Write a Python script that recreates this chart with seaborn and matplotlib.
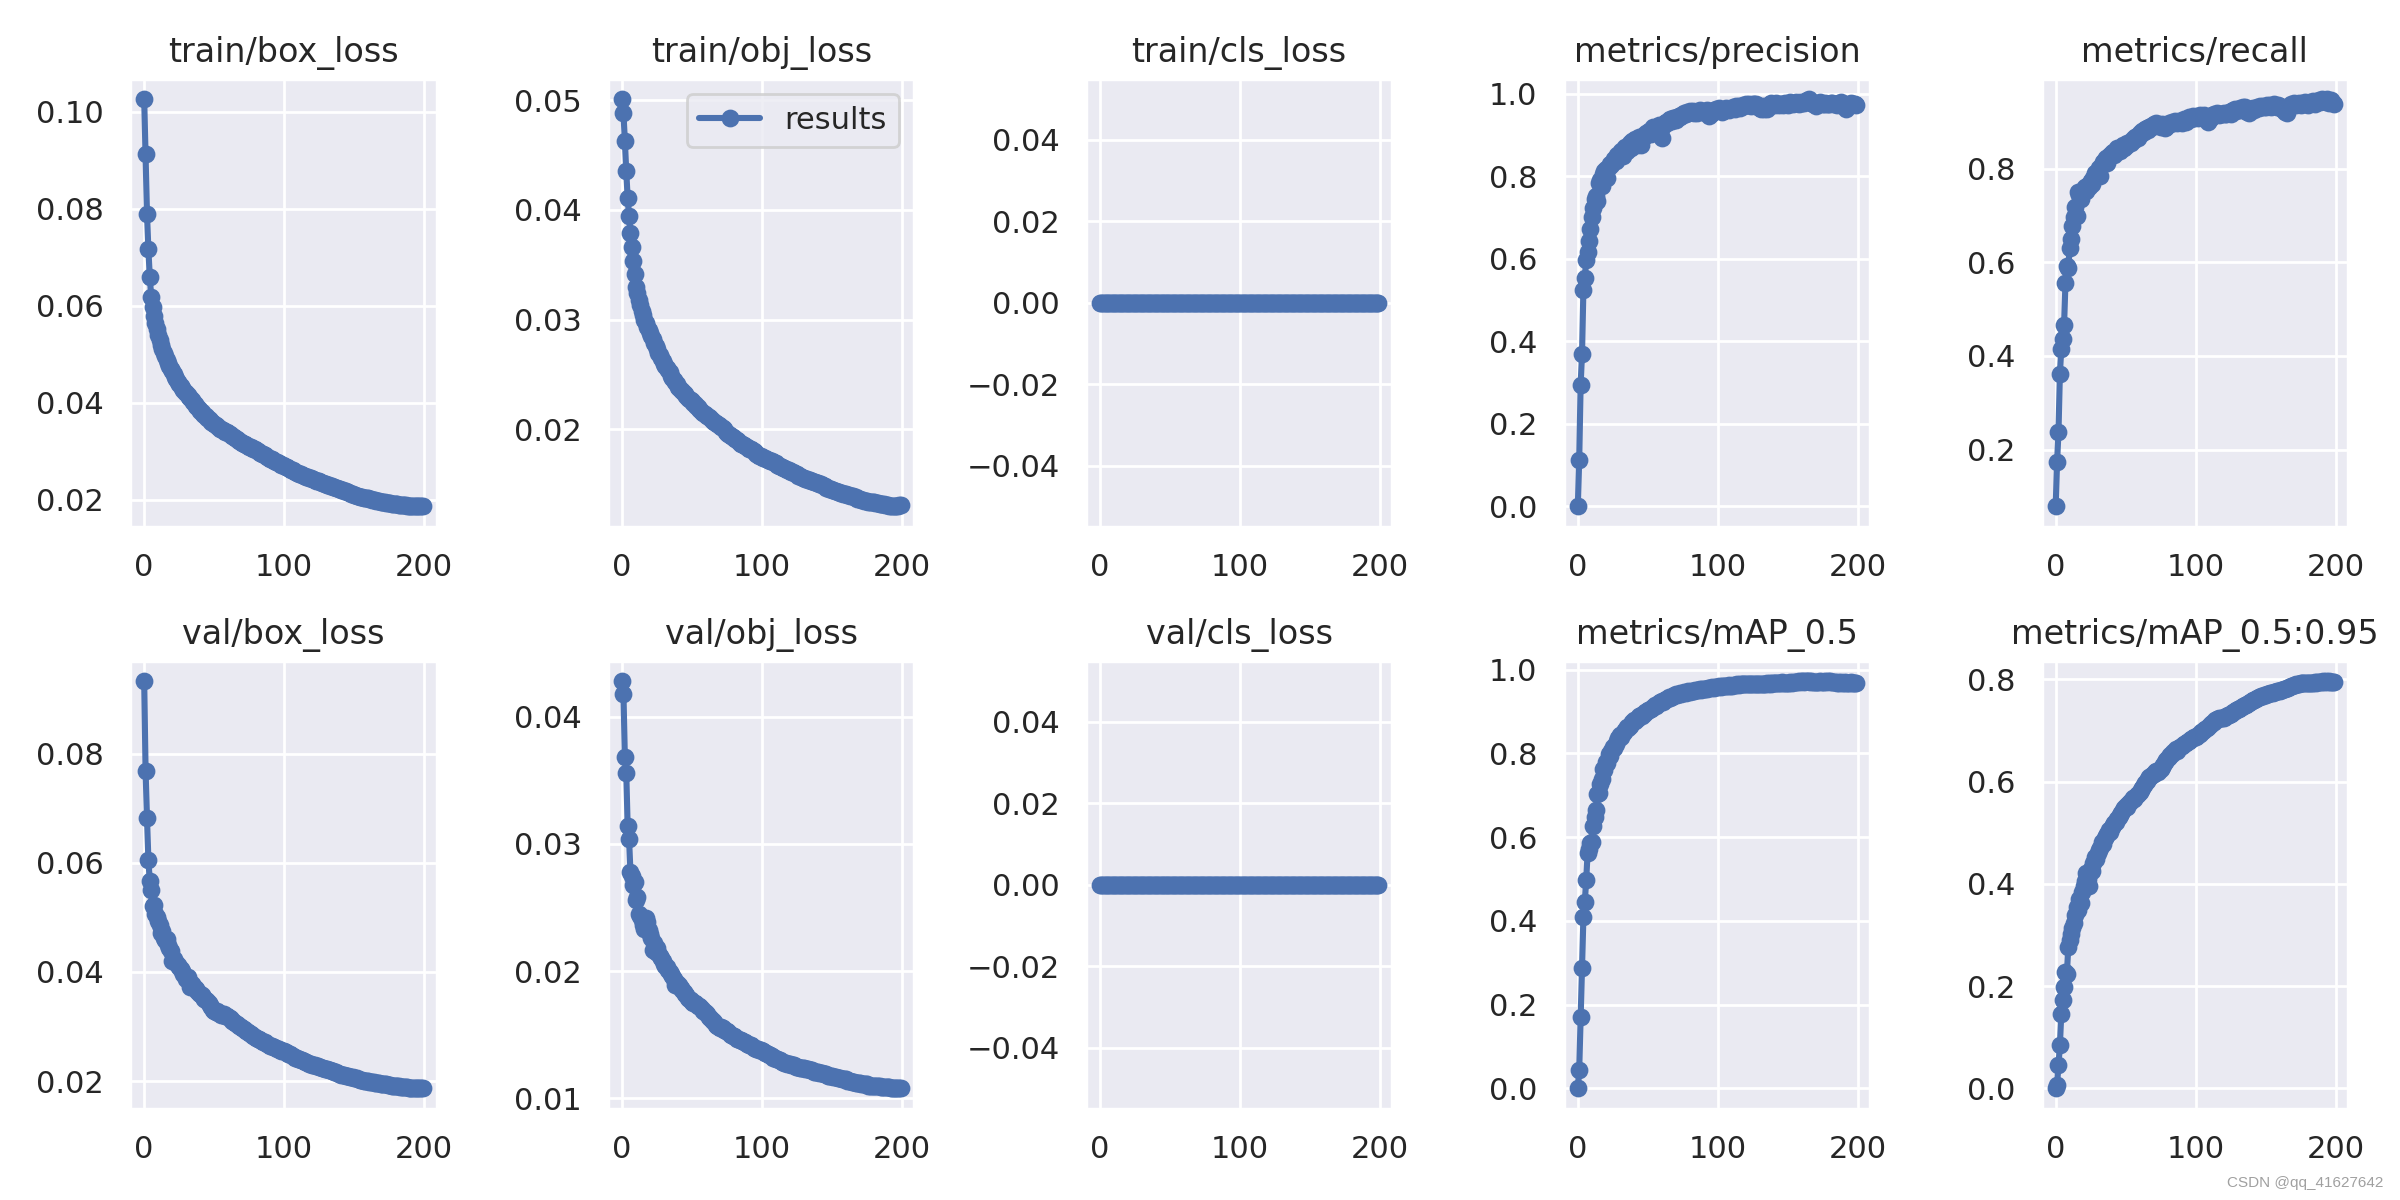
import numpy as np
import matplotlib
matplotlib.use("Agg")
import matplotlib.pyplot as plt
import seaborn as sns

# YOLOv5 training results, 200 epochs
epochs = np.arange(200)

titles = ['train/box_loss', 'train/obj_loss', 'train/cls_loss', 'metrics/precision', 'metrics/recall',
          'val/box_loss', 'val/obj_loss', 'val/cls_loss', 'metrics/mAP_0.5', 'metrics/mAP_0.5:0.95']

train_box_loss = [
    0.1026, 0.0912, 0.0790, 0.0716, 0.0660, 0.0619, 0.0597, 0.0580, 0.0565, 0.0552,
    0.0540, 0.0530, 0.0520, 0.0512, 0.0503, 0.0497, 0.0489, 0.0482, 0.0476, 0.0470,
    0.0465, 0.0459, 0.0453, 0.0449, 0.0444, 0.0439, 0.0435, 0.0431, 0.0427, 0.0423,
    0.0420, 0.0416, 0.0412, 0.0409, 0.0405, 0.0402, 0.0398, 0.0394, 0.0391, 0.0388,
    0.0384, 0.0381, 0.0378, 0.0375, 0.0372, 0.0369, 0.0366, 0.0364, 0.0361, 0.0359,
    0.0357, 0.0355, 0.0352, 0.0350, 0.0347, 0.0346, 0.0344, 0.0342, 0.0340, 0.0339,
    0.0337, 0.0335, 0.0333, 0.0331, 0.0329, 0.0327, 0.0325, 0.0323, 0.0321, 0.0320,
    0.0318, 0.0316, 0.0315, 0.0313, 0.0312, 0.0310, 0.0309, 0.0307, 0.0305, 0.0304,
    0.0302, 0.0300, 0.0299, 0.0297, 0.0295, 0.0294, 0.0292, 0.0290, 0.0288, 0.0287,
    0.0285, 0.0284, 0.0282, 0.0281, 0.0279, 0.0278, 0.0276, 0.0274, 0.0273, 0.0271,
    0.0270, 0.0268, 0.0267, 0.0265, 0.0264, 0.0262, 0.0261, 0.0259, 0.0258, 0.0256,
    0.0255, 0.0254, 0.0253, 0.0252, 0.0250, 0.0249, 0.0248, 0.0247, 0.0246, 0.0245,
    0.0244, 0.0243, 0.0241, 0.0240, 0.0239, 0.0238, 0.0236, 0.0235, 0.0234, 0.0233,
    0.0232, 0.0231, 0.0230, 0.0229, 0.0228, 0.0227, 0.0226, 0.0225, 0.0224, 0.0223,
    0.0222, 0.0221, 0.0220, 0.0219, 0.0218, 0.0217, 0.0216, 0.0215, 0.0213, 0.0212,
    0.0211, 0.0210, 0.0209, 0.0208, 0.0207, 0.0207, 0.0206, 0.0205, 0.0204, 0.0203,
    0.0203, 0.0202, 0.0201, 0.0200, 0.0200, 0.0199, 0.0198, 0.0198, 0.0197, 0.0196,
    0.0196, 0.0195, 0.0195, 0.0194, 0.0194, 0.0193, 0.0193, 0.0192, 0.0192, 0.0191,
    0.0191, 0.0191, 0.0190, 0.0190, 0.0190, 0.0189, 0.0189, 0.0189, 0.0188, 0.0188,
    0.0188, 0.0188, 0.0188, 0.0187, 0.0187, 0.0187, 0.0187, 0.0187, 0.0187, 0.0187,
]

train_obj_loss = [
    0.0501, 0.0488, 0.0463, 0.0435, 0.0411, 0.0394, 0.0379, 0.0366, 0.0353, 0.0342,
    0.0330, 0.0324, 0.0318, 0.0313, 0.0308, 0.0304, 0.0300, 0.0297, 0.0293, 0.0291,
    0.0288, 0.0285, 0.0282, 0.0279, 0.0276, 0.0273, 0.0270, 0.0268, 0.0265, 0.0262,
    0.0260, 0.0258, 0.0256, 0.0254, 0.0252, 0.0249, 0.0247, 0.0245, 0.0243, 0.0241,
    0.0239, 0.0238, 0.0236, 0.0235, 0.0233, 0.0232, 0.0230, 0.0229, 0.0228, 0.0227,
    0.0226, 0.0224, 0.0223, 0.0221, 0.0220, 0.0219, 0.0218, 0.0216, 0.0215, 0.0214,
    0.0213, 0.0212, 0.0211, 0.0210, 0.0209, 0.0208, 0.0207, 0.0206, 0.0205, 0.0204,
    0.0203, 0.0202, 0.0201, 0.0200, 0.0198, 0.0197, 0.0196, 0.0195, 0.0194, 0.0193,
    0.0192, 0.0191, 0.0190, 0.0189, 0.0188, 0.0187, 0.0187, 0.0186, 0.0185, 0.0184,
    0.0183, 0.0182, 0.0182, 0.0181, 0.0180, 0.0179, 0.0178, 0.0177, 0.0176, 0.0176,
    0.0175, 0.0174, 0.0174, 0.0173, 0.0172, 0.0172, 0.0171, 0.0171, 0.0170, 0.0169,
    0.0169, 0.0168, 0.0167, 0.0167, 0.0166, 0.0165, 0.0165, 0.0164, 0.0163, 0.0163,
    0.0162, 0.0161, 0.0161, 0.0160, 0.0159, 0.0159, 0.0158, 0.0158, 0.0157, 0.0156,
    0.0156, 0.0155, 0.0155, 0.0154, 0.0154, 0.0153, 0.0153, 0.0152, 0.0152, 0.0151,
    0.0151, 0.0150, 0.0150, 0.0149, 0.0148, 0.0148, 0.0147, 0.0147, 0.0146, 0.0146,
    0.0145, 0.0145, 0.0144, 0.0144, 0.0143, 0.0143, 0.0142, 0.0142, 0.0141, 0.0141,
    0.0141, 0.0140, 0.0140, 0.0139, 0.0139, 0.0139, 0.0138, 0.0138, 0.0137, 0.0137,
    0.0137, 0.0136, 0.0136, 0.0135, 0.0135, 0.0135, 0.0134, 0.0134, 0.0134, 0.0134,
    0.0134, 0.0133, 0.0133, 0.0133, 0.0132, 0.0132, 0.0132, 0.0132, 0.0131, 0.0131,
    0.0131, 0.0130, 0.0130, 0.0130, 0.0130, 0.0130, 0.0130, 0.0130, 0.0131, 0.0131,
]

train_cls_loss = [0.0] * 200

precision = [
    0.000, 0.112, 0.293, 0.369, 0.525, 0.553, 0.598, 0.616, 0.644, 0.672,
    0.702, 0.724, 0.745, 0.753, 0.741, 0.783, 0.790, 0.775, 0.806, 0.812,
    0.817, 0.795, 0.822, 0.830, 0.826, 0.835, 0.842, 0.838, 0.851, 0.846,
    0.857, 0.862, 0.848, 0.866, 0.870, 0.861, 0.874, 0.880, 0.868, 0.885,
    0.883, 0.890, 0.876, 0.888, 0.895, 0.875, 0.892, 0.900, 0.898, 0.905,
    0.905, 0.910, 0.902, 0.912, 0.918, 0.914, 0.920, 0.917, 0.925, 0.912,
    0.892, 0.922, 0.928, 0.932, 0.930, 0.936, 0.938, 0.934, 0.940, 0.942,
    0.937, 0.944, 0.946, 0.943, 0.948, 0.948, 0.952, 0.950, 0.955, 0.953,
    0.957, 0.955, 0.958, 0.953, 0.956, 0.952, 0.957, 0.960, 0.958, 0.955,
    0.955, 0.958, 0.960, 0.957, 0.945, 0.950, 0.958, 0.961, 0.959, 0.962,
    0.961, 0.965, 0.960, 0.955, 0.958, 0.963, 0.966, 0.962, 0.960, 0.964,
    0.965, 0.968, 0.963, 0.970, 0.967, 0.969, 0.966, 0.971, 0.972, 0.970,
    0.974, 0.972, 0.975, 0.973, 0.971, 0.975, 0.976, 0.974, 0.973, 0.968,
    0.965, 0.962, 0.969, 0.964, 0.966, 0.962, 0.970, 0.975, 0.978, 0.974,
    0.976, 0.973, 0.977, 0.975, 0.972, 0.976, 0.974, 0.973, 0.977, 0.975,
    0.972, 0.976, 0.979, 0.978, 0.975, 0.977, 0.980, 0.978, 0.976, 0.979,
    0.978, 0.981, 0.977, 0.983, 0.985, 0.987, 0.980, 0.978, 0.975, 0.974,
    0.971, 0.975, 0.977, 0.979, 0.978, 0.976, 0.975, 0.978, 0.976, 0.974,
    0.975, 0.977, 0.978, 0.976, 0.974, 0.973, 0.975, 0.977, 0.979, 0.976,
    0.974, 0.970, 0.962, 0.969, 0.975, 0.977, 0.976, 0.974, 0.975, 0.972,
]

recall = [
    0.079, 0.174, 0.237, 0.362, 0.415, 0.437, 0.467, 0.557, 0.593, 0.588,
    0.631, 0.650, 0.677, 0.696, 0.719, 0.700, 0.750, 0.744, 0.735, 0.752,
    0.757, 0.760, 0.752, 0.766, 0.762, 0.773, 0.768, 0.780, 0.790, 0.786,
    0.795, 0.802, 0.785, 0.808, 0.815, 0.818, 0.824, 0.812, 0.828, 0.830,
    0.834, 0.836, 0.829, 0.840, 0.845, 0.841, 0.838, 0.846, 0.850, 0.844,
    0.849, 0.854, 0.852, 0.858, 0.856, 0.864, 0.862, 0.868, 0.870, 0.866,
    0.876, 0.874, 0.880, 0.878, 0.884, 0.887, 0.883, 0.889, 0.892, 0.890,
    0.895, 0.893, 0.897, 0.895, 0.891, 0.889, 0.896, 0.893, 0.887, 0.890,
    0.893, 0.897, 0.895, 0.899, 0.897, 0.902, 0.900, 0.897, 0.903, 0.901,
    0.898, 0.903, 0.906, 0.900, 0.904, 0.910, 0.908, 0.906, 0.912, 0.909,
    0.911, 0.913, 0.909, 0.915, 0.912, 0.910, 0.914, 0.908, 0.904, 0.900,
    0.906, 0.910, 0.914, 0.917, 0.915, 0.919, 0.917, 0.915, 0.918, 0.916,
    0.920, 0.918, 0.916, 0.919, 0.921, 0.917, 0.923, 0.925, 0.927, 0.924,
    0.925, 0.928, 0.930, 0.926, 0.931, 0.933, 0.928, 0.922, 0.920, 0.925,
    0.928, 0.930, 0.926, 0.929, 0.932, 0.930, 0.934, 0.931, 0.935, 0.932,
    0.933, 0.936, 0.934, 0.937, 0.931, 0.935, 0.938, 0.936, 0.933, 0.937,
    0.935, 0.932, 0.928, 0.925, 0.922, 0.919, 0.930, 0.934, 0.938, 0.936,
    0.940, 0.938, 0.936, 0.939, 0.941, 0.937, 0.940, 0.938, 0.942, 0.939,
    0.937, 0.940, 0.943, 0.941, 0.944, 0.939, 0.942, 0.945, 0.946, 0.943,
    0.948, 0.944, 0.946, 0.942, 0.949, 0.941, 0.944, 0.946, 0.940, 0.939,
]

val_box_loss = [
    0.0933, 0.0768, 0.0682, 0.0606, 0.0566, 0.0550, 0.0520, 0.0522, 0.0506, 0.0500,
    0.0493, 0.0486, 0.0472, 0.0475, 0.0462, 0.0458, 0.0461, 0.0450, 0.0444, 0.0438,
    0.0420, 0.0424, 0.0419, 0.0416, 0.0413, 0.0409, 0.0405, 0.0401, 0.0397, 0.0392,
    0.0388, 0.0390, 0.0383, 0.0373, 0.0378, 0.0374, 0.0370, 0.0368, 0.0365, 0.0362,
    0.0360, 0.0357, 0.0355, 0.0351, 0.0349, 0.0346, 0.0343, 0.0340, 0.0335, 0.0331,
    0.0328, 0.0327, 0.0329, 0.0325, 0.0324, 0.0322, 0.0321, 0.0323, 0.0320, 0.0319,
    0.0318, 0.0316, 0.0314, 0.0311, 0.0309, 0.0307, 0.0305, 0.0303, 0.0301, 0.0299,
    0.0297, 0.0295, 0.0293, 0.0292, 0.0290, 0.0289, 0.0287, 0.0285, 0.0283, 0.0281,
    0.0279, 0.0278, 0.0277, 0.0275, 0.0273, 0.0272, 0.0271, 0.0269, 0.0268, 0.0266,
    0.0265, 0.0264, 0.0263, 0.0262, 0.0260, 0.0259, 0.0258, 0.0257, 0.0256, 0.0255,
    0.0255, 0.0253, 0.0252, 0.0250, 0.0249, 0.0247, 0.0246, 0.0244, 0.0243, 0.0242,
    0.0241, 0.0240, 0.0239, 0.0238, 0.0237, 0.0236, 0.0235, 0.0234, 0.0232, 0.0231,
    0.0230, 0.0230, 0.0229, 0.0228, 0.0227, 0.0226, 0.0226, 0.0225, 0.0224, 0.0223,
    0.0223, 0.0222, 0.0221, 0.0220, 0.0219, 0.0218, 0.0217, 0.0216, 0.0215, 0.0214,
    0.0213, 0.0212, 0.0212, 0.0211, 0.0210, 0.0209, 0.0209, 0.0208, 0.0207, 0.0207,
    0.0206, 0.0205, 0.0205, 0.0204, 0.0203, 0.0203, 0.0202, 0.0201, 0.0201, 0.0200,
    0.0200, 0.0199, 0.0199, 0.0198, 0.0198, 0.0197, 0.0197, 0.0196, 0.0196, 0.0195,
    0.0195, 0.0195, 0.0194, 0.0194, 0.0193, 0.0193, 0.0193, 0.0192, 0.0192, 0.0192,
    0.0192, 0.0191, 0.0191, 0.0190, 0.0190, 0.0190, 0.0189, 0.0189, 0.0189, 0.0188,
    0.0188, 0.0188, 0.0188, 0.0187, 0.0187, 0.0187, 0.0187, 0.0187, 0.0187, 0.0187,
]

val_obj_loss = [
    0.0428, 0.0418, 0.0368, 0.0356, 0.0314, 0.0304, 0.0278, 0.0275, 0.0268, 0.0270,
    0.0256, 0.0258, 0.0245, 0.0243, 0.0240, 0.0236, 0.0233, 0.0242, 0.0239, 0.0232,
    0.0229, 0.0226, 0.0217, 0.0222, 0.0215, 0.0218, 0.0214, 0.0212, 0.0210, 0.0208,
    0.0206, 0.0204, 0.0203, 0.0201, 0.0199, 0.0198, 0.0196, 0.0194, 0.0189, 0.0191,
    0.0188, 0.0189, 0.0187, 0.0185, 0.0184, 0.0182, 0.0181, 0.0179, 0.0178, 0.0177,
    0.0176, 0.0175, 0.0175, 0.0174, 0.0173, 0.0173, 0.0172, 0.0170, 0.0169, 0.0168,
    0.0167, 0.0166, 0.0164, 0.0163, 0.0162, 0.0161, 0.0160, 0.0158, 0.0157, 0.0156,
    0.0155, 0.0156, 0.0155, 0.0154, 0.0153, 0.0153, 0.0152, 0.0151, 0.0150, 0.0149,
    0.0149, 0.0148, 0.0147, 0.0147, 0.0146, 0.0146, 0.0145, 0.0144, 0.0144, 0.0143,
    0.0143, 0.0142, 0.0142, 0.0141, 0.0140, 0.0140, 0.0139, 0.0139, 0.0138, 0.0138,
    0.0137, 0.0137, 0.0136, 0.0136, 0.0135, 0.0134, 0.0134, 0.0133, 0.0132, 0.0132,
    0.0131, 0.0131, 0.0130, 0.0130, 0.0129, 0.0129, 0.0128, 0.0128, 0.0127, 0.0127,
    0.0127, 0.0126, 0.0126, 0.0126, 0.0125, 0.0125, 0.0125, 0.0124, 0.0124, 0.0124,
    0.0124, 0.0123, 0.0123, 0.0123, 0.0122, 0.0122, 0.0122, 0.0121, 0.0121, 0.0121,
    0.0121, 0.0120, 0.0120, 0.0120, 0.0119, 0.0119, 0.0119, 0.0118, 0.0118, 0.0118,
    0.0118, 0.0117, 0.0117, 0.0117, 0.0116, 0.0116, 0.0116, 0.0115, 0.0115, 0.0115,
    0.0115, 0.0114, 0.0114, 0.0114, 0.0113, 0.0113, 0.0113, 0.0112, 0.0112, 0.0112,
    0.0112, 0.0111, 0.0111, 0.0111, 0.0111, 0.0111, 0.0110, 0.0110, 0.0110, 0.0110,
    0.0110, 0.0110, 0.0110, 0.0110, 0.0110, 0.0109, 0.0109, 0.0109, 0.0109, 0.0109,
    0.0109, 0.0109, 0.0108, 0.0108, 0.0108, 0.0108, 0.0108, 0.0108, 0.0108, 0.0108,
]

val_cls_loss = [0.0] * 200

map50 = [
    0.000, 0.044, 0.170, 0.287, 0.409, 0.445, 0.498, 0.562, 0.571, 0.585,
    0.589, 0.626, 0.648, 0.664, 0.703, 0.705, 0.726, 0.740, 0.762, 0.760,
    0.780, 0.776, 0.798, 0.795, 0.805, 0.816, 0.812, 0.822, 0.830, 0.836,
    0.844, 0.840, 0.848, 0.852, 0.857, 0.862, 0.860, 0.866, 0.870, 0.874,
    0.879, 0.877, 0.882, 0.885, 0.889, 0.892, 0.890, 0.895, 0.898, 0.900,
    0.904, 0.903, 0.907, 0.909, 0.912, 0.916, 0.914, 0.918, 0.920, 0.922,
    0.925, 0.924, 0.927, 0.930, 0.931, 0.934, 0.933, 0.936, 0.938, 0.939,
    0.941, 0.940, 0.942, 0.944, 0.943, 0.945, 0.946, 0.945, 0.947, 0.948,
    0.947, 0.949, 0.950, 0.949, 0.951, 0.952, 0.951, 0.953, 0.952, 0.954,
    0.953, 0.955, 0.954, 0.956, 0.957, 0.956, 0.958, 0.957, 0.959, 0.958,
    0.959, 0.960, 0.959, 0.961, 0.960, 0.962, 0.961, 0.962, 0.963, 0.962,
    0.962, 0.963, 0.964, 0.963, 0.965, 0.964, 0.966, 0.965, 0.966, 0.965,
    0.965, 0.966, 0.965, 0.966, 0.967, 0.966, 0.965, 0.966, 0.967, 0.966,
    0.965, 0.966, 0.967, 0.966, 0.967, 0.968, 0.967, 0.968, 0.967, 0.968,
    0.968, 0.969, 0.968, 0.969, 0.968, 0.969, 0.970, 0.969, 0.968, 0.969,
    0.968, 0.969, 0.970, 0.969, 0.970, 0.971, 0.970, 0.971, 0.972, 0.971,
    0.973, 0.972, 0.971, 0.972, 0.973, 0.972, 0.971, 0.972, 0.971, 0.970,
    0.971, 0.970, 0.971, 0.972, 0.971, 0.970, 0.971, 0.972, 0.971, 0.972,
    0.972, 0.971, 0.970, 0.971, 0.970, 0.969, 0.970, 0.969, 0.970, 0.969,
    0.969, 0.970, 0.969, 0.968, 0.969, 0.970, 0.969, 0.969, 0.968, 0.969,
]

map50_95 = [
    0.000, 0.007, 0.045, 0.084, 0.146, 0.172, 0.199, 0.228, 0.224, 0.276,
    0.290, 0.301, 0.313, 0.324, 0.339, 0.355, 0.348, 0.370, 0.362, 0.385,
    0.396, 0.405, 0.422, 0.410, 0.396, 0.430, 0.425, 0.440, 0.452, 0.448,
    0.460, 0.466, 0.470, 0.482, 0.478, 0.490, 0.494, 0.498, 0.505, 0.502,
    0.512, 0.515, 0.519, 0.522, 0.527, 0.531, 0.535, 0.538, 0.544, 0.548,
    0.553, 0.550, 0.556, 0.560, 0.563, 0.568, 0.566, 0.571, 0.574, 0.576,
    0.579, 0.583, 0.588, 0.594, 0.598, 0.602, 0.606, 0.609, 0.611, 0.614,
    0.616, 0.618, 0.621, 0.619, 0.622, 0.624, 0.628, 0.633, 0.638, 0.642,
    0.646, 0.649, 0.652, 0.655, 0.658, 0.661, 0.663, 0.660, 0.665, 0.667,
    0.669, 0.672, 0.674, 0.676, 0.678, 0.680, 0.682, 0.684, 0.685, 0.687,
    0.688, 0.690, 0.692, 0.694, 0.697, 0.699, 0.701, 0.703, 0.706, 0.708,
    0.710, 0.712, 0.715, 0.717, 0.720, 0.722, 0.723, 0.724, 0.724, 0.725,
    0.725, 0.727, 0.728, 0.730, 0.731, 0.733, 0.735, 0.736, 0.738, 0.740,
    0.742, 0.743, 0.745, 0.746, 0.748, 0.750, 0.751, 0.753, 0.754, 0.756,
    0.757, 0.759, 0.760, 0.762, 0.763, 0.765, 0.766, 0.767, 0.768, 0.769,
    0.770, 0.771, 0.772, 0.773, 0.773, 0.774, 0.775, 0.776, 0.777, 0.777,
    0.778, 0.779, 0.780, 0.781, 0.782, 0.783, 0.784, 0.785, 0.787, 0.788,
    0.789, 0.790, 0.791, 0.792, 0.792, 0.793, 0.793, 0.794, 0.794, 0.793,
    0.793, 0.794, 0.793, 0.794, 0.794, 0.795, 0.794, 0.795, 0.795, 0.796,
    0.796, 0.797, 0.796, 0.797, 0.796, 0.797, 0.796, 0.796, 0.795, 0.795,
]

series = [train_box_loss, train_obj_loss, train_cls_loss, precision, recall,
          val_box_loss, val_obj_loss, val_cls_loss, map50, map50_95]

# Plot
sns.set_theme()
fig, axes = plt.subplots(2, 5, figsize=(12, 6), tight_layout=True)
axes = axes.ravel()
color = sns.color_palette()[0]

for i, (ax, title, vals) in enumerate(zip(axes, titles, series)):
    sns.lineplot(x=epochs, y=vals, ax=ax, color=color, marker='o', errorbar=None, label='results')
    # force the results.png marker look: '.' markers, size 8, line width 2
    line = ax.lines[-1]
    line.set_marker('o')
    line.set_markersize(5.2)
    line.set_markeredgewidth(1.2)
    line.set_markeredgecolor(color)
    line.set_markerfacecolor(color)
    line.set_linewidth(2.2)
    ax.set_title(title, fontsize=12)
    ax.set_xlabel('')
    ax.set_ylabel('')
    if i == 1:
        ax.legend(handles=[line], labels=['results'])
    else:
        ax.get_legend().remove()

fig.text(0.993, 0.008, 'CSDN @qq_41627642', ha='right', va='bottom', fontsize=5.5,
         color='#a0a0a0', family='Liberation Sans')

plt.savefig('out.png', dpi=200)
